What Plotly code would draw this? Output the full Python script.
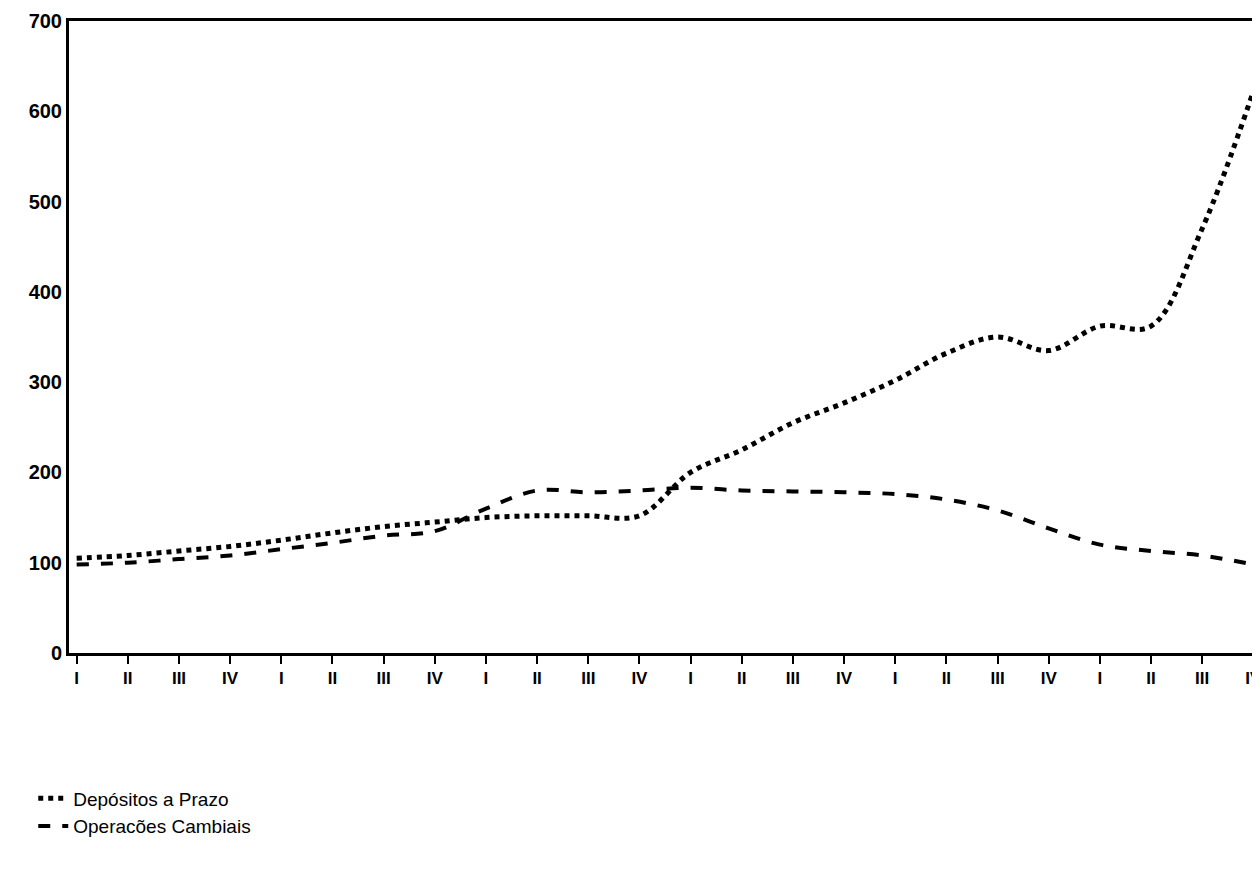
import plotly.graph_objects as go

quarters = ["I", "II", "III", "IV"] * 6
depositos = [105, 108, 113, 118, 125, 133, 140, 145, 150, 152, 152, 152,
             200, 225, 255, 277, 302, 332, 350, 335, 362, 362, 470, 622]
cambiais = [98, 100, 104, 108, 115, 122, 130, 135, 160, 180, 178, 180,
            183, 180, 179, 178, 176, 170, 158, 138, 120, 113, 108, 98]
xs = list(range(len(quarters)))

fig = go.Figure()
fig.add_trace(go.Scatter(x=xs, y=depositos, mode="lines", name="Depósitos a Prazo",
                         line=dict(color="black", width=5, dash="dot", shape="spline")))
fig.add_trace(go.Scatter(x=xs, y=cambiais, mode="lines", name="Operacões Cambiais",
                         line=dict(color="black", width=4, dash="dash", shape="spline")))

fig.update_layout(
    width=1260, height=879,
    margin=dict(l=61, r=7, t=13, b=234, autoexpand=False),
    paper_bgcolor="white", plot_bgcolor="white",
    font=dict(family="Liberation Sans, Arial", color="black", size=19),
    legend=dict(x=-0.03, y=-0.2, xanchor="left", yanchor="top",
                font=dict(size=19), tracegroupgap=16, bgcolor="rgba(0,0,0,0)"),
)
fig.update_xaxes(range=[-0.15, 23.15], tickmode="array", tickvals=xs, ticktext=quarters,
                 showgrid=False, zeroline=False, ticks="outside", ticklen=8,
                 tickwidth=2, tickcolor="black", showline=True, linewidth=3,
                 linecolor="black", mirror=True, automargin=False,
                 tickfont=dict(size=17, family="Liberation Sans", weight="bold"))
fig.update_yaxes(range=[0, 700], tickvals=list(range(0, 701, 100)),
                 showgrid=False, zeroline=False, ticks="", showline=True,
                 linewidth=3, linecolor="black", mirror=True, automargin=False,
                 tickfont=dict(size=20, family="Liberation Sans", weight="bold"))

fig.write_html("out.html")
